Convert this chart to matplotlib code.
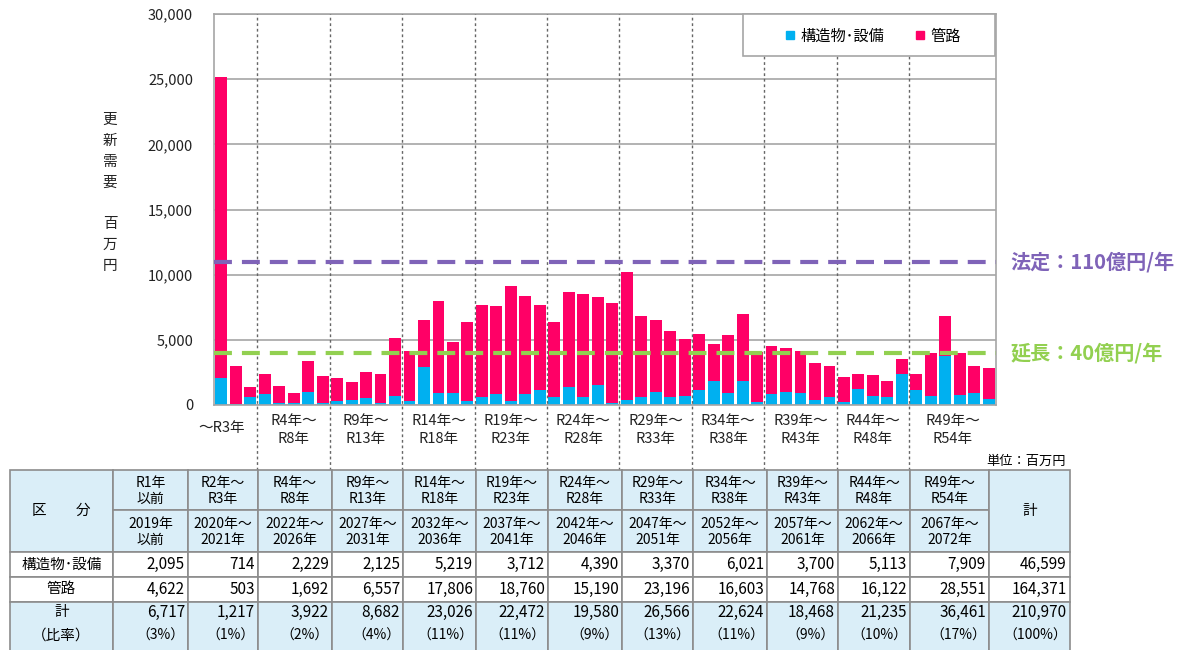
import numpy as np
import matplotlib.pyplot as plt
from matplotlib.lines import Line2D
from matplotlib.patches import Rectangle

plt.rcParams['font.family'] = ['Noto Sans CJK JP', 'DejaVu Sans']

# --- chart data (百万円) ---
group_labels = ["～R3年", "R4年～\nR8年", "R9年～\nR13年", "R14年～\nR18年", "R19年～\nR23年",
                "R24年～\nR28年", "R29年～\nR33年", "R34年～\nR38年", "R39年～\nR43年",
                "R44年～\nR48年", "R49年～\nR54年"]
group_sizes = [3, 5, 5, 5, 5, 5, 5, 5, 5, 5, 6]

structure = [2100, 100, 640,
             820, 180, 180, 1020, 180,
             300, 380, 540, 180, 720,
             300, 2920, 950, 950, 300,
             620, 820, 300, 820, 1130,
             620, 1360, 620, 1540, 150,
             360, 620, 1030, 620, 720,
             1130, 1850, 920, 1850, 260,
             820, 1030, 920, 410, 620,
             200, 1230, 690, 620, 2380,
             1130, 690, 3770, 790, 920, 490]
pipe = [23100, 2900, 720,
        1560, 1280, 740, 2330, 2020,
        1800, 1390, 1970, 2200, 4400,
        3880, 3570, 7050, 3850, 6080,
        7070, 6740, 8850, 7560, 6540,
        5760, 7310, 7920, 6740, 7640,
        9840, 6230, 5460, 5020, 4330,
        4310, 2840, 4440, 5100, 3820,
        3670, 3380, 3260, 2820, 2410,
        1980, 1180, 1590, 1250, 1160,
        1250, 3280, 3050, 3180, 2110, 2330]

legal_level = 11000
legal_label = "法定：110億円/年"
extended_level = 4000
extended_label = "延長：40億円/年"

# --- table data ---
tbl_wareki = ["R1年\n以前", "R2年～\nR3年", "R4年～\nR8年", "R9年～\nR13年", "R14年～\nR18年",
              "R19年～\nR23年", "R24年～\nR28年", "R29年～\nR33年", "R34年～\nR38年",
              "R39年～\nR43年", "R44年～\nR48年", "R49年～\nR54年"]
tbl_seireki = ["2019年\n以前", "2020年～\n2021年", "2022年～\n2026年", "2027年～\n2031年",
               "2032年～\n2036年", "2037年～\n2041年", "2042年～\n2046年", "2047年～\n2051年",
               "2052年～\n2056年", "2057年～\n2061年", "2062年～\n2066年", "2067年～\n2072年"]
tbl_structure = [2095, 714, 2229, 2125, 5219, 3712, 4390, 3370, 6021, 3700, 5113, 7909, 46599]
tbl_pipe = [4622, 503, 1692, 6557, 17806, 18760, 15190, 23196, 16603, 14768, 16122, 28551, 164371]
tbl_total = [6717, 1217, 3922, 8682, 23026, 22472, 19580, 26566, 22624, 18468, 21235, 36461, 210970]
tbl_ratio = [3, 1, 2, 4, 11, 11, 9, 13, 11, 9, 10, 17, 100]

blue = '#00b0f0'
pink = '#ff0066'
purple = '#7f63b8'
green = '#92d050'
light = '#daeef8'
grid_c = '#a6a6a6'

W, H = 1194, 650
fig = plt.figure(figsize=(W / 100, H / 100), dpi=100)
ax = fig.add_axes([214 / W, 1 - 405 / H, 782 / W, 391 / H])

x = np.arange(len(structure))
ax.bar(x, structure, width=0.82, color=blue, zorder=2)
ax.bar(x, pipe, width=0.82, bottom=structure, color=pink, zorder=2)

ax.set_xlim(-0.5, len(x) - 0.5)
ax.set_ylim(0, 30000)
ax.set_yticks(range(0, 30001, 5000))
ax.set_yticklabels([f"{v:,}" for v in range(0, 30001, 5000)], fontsize=10.5, color='#222222')
ax.tick_params(axis='y', length=0, pad=15)
ax.set_xticks([])
ax.yaxis.grid(True, color=grid_c, lw=1.2, zorder=0)
ax.set_axisbelow(True)
for s in ax.spines.values():
    s.set_color(grid_c)
    s.set_linewidth(1.2)

# group separators and labels
sizes = np.array(group_sizes)
ends = np.cumsum(sizes)
starts = ends - sizes
for b in ends[:-1] - 0.5:
    ax.axvline(b, ymin=-0.166, ymax=1, color='#666666', lw=1, ls=(0, (2, 2)),
               clip_on=False, zorder=3)
centers = starts + (sizes - 1) / 2
centers[0] = 0.0
for c, lab in zip(centers, group_labels):
    yy = -0.058 if '\n' not in lab else -0.064
    ax.text(c, yy, lab, transform=ax.get_xaxis_transform(), ha='center', va='center',
            fontsize=10.5, linespacing=1.35, color='#222222')

# reference lines
ax.axhline(legal_level, color=purple, lw=3, dashes=(4.3, 2.4), zorder=4)
ax.axhline(extended_level, color=green, lw=3, dashes=(4.3, 2.4), zorder=4)
ax.text(1.018, legal_level, legal_label, transform=ax.get_yaxis_transform(), color=purple,
        fontsize=14.5, fontweight='bold', va='center', ha='left')
ax.text(1.018, extended_level, extended_label, transform=ax.get_yaxis_transform(), color=green,
        fontsize=14.5, fontweight='bold', va='center', ha='left')

# y label
fig.text(110 / W, 1 - 193 / H, "更\n新\n需\n要\n\n百\n万\n円", ha='center', va='center',
         fontsize=10.5, linespacing=1.62, color='#222222')

# --- overlay in pixel coordinates (legend box + table) ---
tab = fig.add_axes([0, 0, 1, 1])
tab.set_xlim(0, W)
tab.set_ylim(H, 0)
tab.axis('off')

# legend box
tab.add_patch(Rectangle((743, 14), 252, 42, facecolor='white', edgecolor=grid_c, lw=1.2))
handles = [Line2D([], [], marker='s', color=blue, ls='none', markersize=6),
           Line2D([], [], marker='s', color=pink, ls='none', markersize=6)]
tab.legend(handles, ["構造物･設備", "管路"], loc='center', bbox_to_anchor=(873 / W, 1 - 36 / H),
           ncol=2, fontsize=11, frameon=False, handlelength=0.6, handletextpad=0.4,
           columnspacing=2.0)

col_x = [10, 113, 188, 258, 332, 403, 476, 548, 622, 693, 767, 838, 910, 989, 1070]
row_y = [470, 510, 552, 577, 602, 652]
edge = '#8c8c8c'


def cell(x0, x1, y0, y1, fill):
    tab.add_patch(Rectangle((x0, y0), x1 - x0, y1 - y0, facecolor=fill, edgecolor=edge,
                            lw=1.2, clip_on=False))


# header
cell(col_x[0], col_x[1], row_y[0], row_y[2], light)
tab.text((col_x[0] + col_x[1]) / 2, (row_y[0] + row_y[2]) / 2, "区　　分", ha='center',
         va='center', fontsize=10.5)
for i in range(12):
    x0, x1 = col_x[i + 1], col_x[i + 2]
    cell(x0, x1, row_y[0], row_y[1], light)
    cell(x0, x1, row_y[1], row_y[2], light)
    tab.text((x0 + x1) / 2, (row_y[0] + row_y[1]) / 2 + 1, tbl_wareki[i], ha='center',
             va='center', fontsize=10, linespacing=1.2)
    tab.text((x0 + x1) / 2, (row_y[1] + row_y[2]) / 2 + 1, tbl_seireki[i], ha='center',
             va='center', fontsize=10, linespacing=1.2)
cell(col_x[13], col_x[14], row_y[0], row_y[2], light)
tab.text((col_x[13] + col_x[14]) / 2, (row_y[0] + row_y[2]) / 2, "計", ha='center',
         va='center', fontsize=10.5)

# rows
row_names = ["構造物･設備", "管路"]
for r, vals in enumerate([tbl_structure, tbl_pipe]):
    y0, y1 = row_y[2 + r], row_y[3 + r]
    cell(col_x[0], col_x[1], y0, y1, 'white')
    tab.text((col_x[0] + col_x[1]) / 2, (y0 + y1) / 2, row_names[r], ha='center',
             va='center', fontsize=10.5)
    for i, v in enumerate(vals):
        cell(col_x[i + 1], col_x[i + 2], y0, y1, 'white')
        tab.text(col_x[i + 2] - 3, (y0 + y1) / 2, f"{v:,}", ha='right', va='center',
                 fontsize=11)

y0, y1 = row_y[4], row_y[5]
cell(col_x[0], col_x[1], y0, y1, light)
tab.text((col_x[0] + col_x[1]) / 2, 612, "計", ha='center', va='center', fontsize=10.5)
tab.text((col_x[0] + col_x[1]) / 2, 636, "（比率）", ha='center', va='center', fontsize=10.5)
for i, (v, p) in enumerate(zip(tbl_total, tbl_ratio)):
    cell(col_x[i + 1], col_x[i + 2], y0, y1, light)
    tab.text(col_x[i + 2] - 3, 612, f"{v:,}", ha='right', va='center', fontsize=11)
    tab.text(col_x[i + 2] - 3, 636, f"（{p}%）", ha='right', va='center', fontsize=10)

tab.text(1066, 461, "単位：百万円", ha='right', va='center', fontsize=9.5)

fig.savefig('out.png', dpi=100)
